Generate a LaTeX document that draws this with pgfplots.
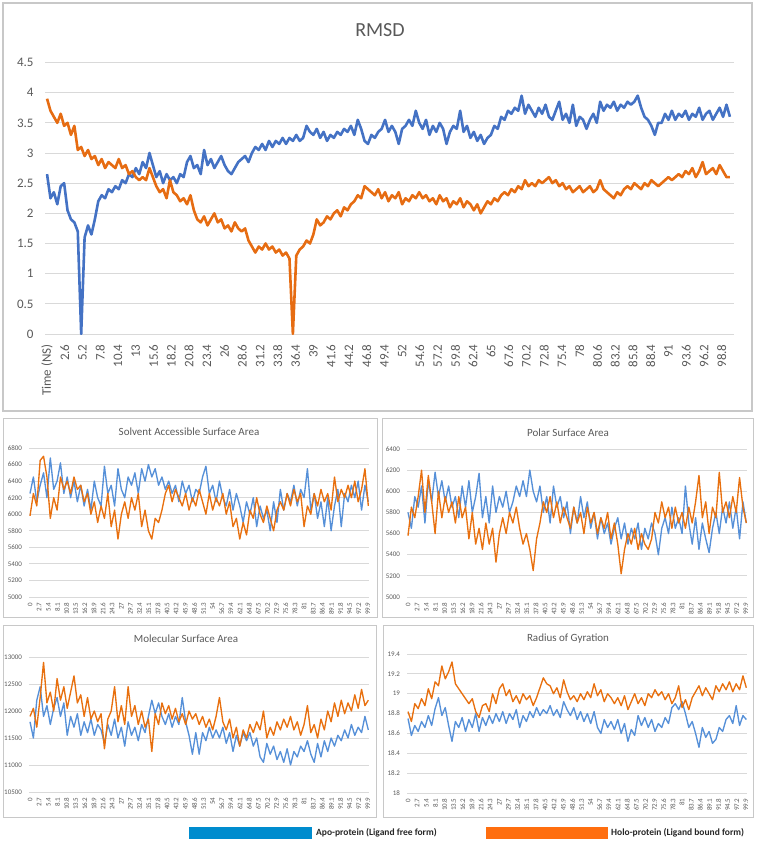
\documentclass[border=0pt]{standalone}
\usepackage{fontspec}
\setmainfont{Carlito}
\usepackage{pgfplots}
\usepackage{pgfplotstable}
\pgfplotsset{compat=1.18}

\definecolor{txt}{HTML}{595959}
\definecolor{gridc}{HTML}{D9D9D9}
\definecolor{framec}{HTML}{C8C8C8}
\definecolor{rblue}{HTML}{4472C4}
\definecolor{rorange}{HTML}{E66C12}
\definecolor{sblue}{HTML}{5690D8}
\definecolor{sorange}{HTML}{E8700F}
\definecolor{lblue}{HTML}{008CCE}
\definecolor{lorange}{HTML}{FF6E0F}

\pgfplotsset{
  excel/.style={
    scale only axis, enlargelimits=false,
    axis line style={draw=none}, tick style={draw=none}, major tick length=0pt,
    ymajorgrids, grid style={draw=gridc, line width=0.8pt},
    scaled ticks=false,
    /pgf/number format/assume math mode=true,
    /pgf/number format/1000 sep={},
    tick label style={text=txt},
    x tick label style={rotate=90, anchor=east},
  },
  small/.style={
    excel, width=340pt, xmin=-0.3, xmax=100.2,
    tick label style={font=\fontsize{7}{7}\selectfont},
    yticklabel shift=3.5pt, xticklabel shift=2pt,
    xtick={0,2.7,5.4,8.1,10.8,13.5,16.2,18.9,21.6,24.3,27,29.7,32.4,35.1,37.8,40.5,43.2,45.9,48.6,
      51.3,54,56.7,59.4,62.1,64.8,67.5,70.2,72.9,75.6,78.3,81,83.7,86.4,89.1,91.8,94.5,97.2,99.9},
  },
  sline/.style={line width=1.35pt, line join=round},
}

% RMSD, 0.5 ns steps
\pgfplotstableread[row sep=\\,header=false]{
2.65\\2.25\\2.35\\2.15\\2.45\\2.50\\2.05\\1.90\\1.85\\1.70\\
0.00\\1.60\\1.80\\1.65\\1.90\\2.20\\2.30\\2.25\\2.40\\2.35\\
2.45\\2.40\\2.55\\2.50\\2.65\\2.60\\2.75\\2.65\\2.85\\2.75\\
3.00\\2.80\\2.60\\2.70\\2.50\\2.65\\2.55\\2.60\\2.50\\2.65\\
2.60\\2.85\\2.95\\2.75\\2.80\\2.65\\3.05\\2.80\\2.90\\2.75\\
2.85\\2.95\\2.80\\2.70\\2.65\\2.75\\2.85\\2.90\\2.95\\2.85\\
3.00\\3.10\\3.05\\3.15\\3.05\\3.20\\3.10\\3.20\\3.15\\3.25\\
3.15\\3.25\\3.20\\3.30\\3.20\\3.25\\3.45\\3.35\\3.30\\3.40\\
3.25\\3.35\\3.20\\3.30\\3.25\\3.35\\3.30\\3.40\\3.35\\3.45\\
3.30\\3.55\\3.40\\3.20\\3.15\\3.30\\3.25\\3.35\\3.40\\3.55\\
3.35\\3.45\\3.35\\3.15\\3.40\\3.45\\3.55\\3.45\\3.70\\3.50\\
3.40\\3.55\\3.30\\3.45\\3.35\\3.50\\3.40\\3.15\\3.35\\3.45\\
3.40\\3.70\\3.35\\3.45\\3.25\\3.35\\3.20\\3.30\\3.15\\3.25\\
3.30\\3.45\\3.40\\3.60\\3.55\\3.70\\3.65\\3.75\\3.70\\3.95\\
3.65\\3.80\\3.70\\3.60\\3.75\\3.65\\3.80\\3.60\\3.55\\3.70\\
3.85\\3.55\\3.65\\3.50\\3.80\\3.45\\3.60\\3.55\\3.40\\3.55\\
3.65\\3.50\\3.85\\3.70\\3.80\\3.75\\3.85\\3.70\\3.80\\3.75\\
3.85\\3.80\\3.85\\3.95\\3.75\\3.60\\3.55\\3.45\\3.30\\3.50\\
3.50\\3.65\\3.55\\3.70\\3.55\\3.65\\3.60\\3.70\\3.55\\3.65\\
3.60\\3.75\\3.55\\3.65\\3.70\\3.55\\3.65\\3.75\\3.60\\3.80\\
3.60\\
}\rmsdapo
\pgfplotstableread[row sep=\\,header=false]{
3.90\\3.70\\3.60\\3.50\\3.65\\3.45\\3.50\\3.30\\3.45\\3.05\\
3.10\\2.95\\3.05\\2.90\\2.95\\2.80\\2.90\\2.75\\2.85\\2.80\\
2.75\\2.90\\2.75\\2.80\\2.65\\2.70\\2.60\\2.55\\2.60\\2.55\\
2.75\\2.60\\2.45\\2.35\\2.40\\2.25\\2.55\\2.35\\2.30\\2.20\\
2.25\\2.15\\2.30\\2.05\\1.90\\1.85\\1.95\\1.80\\1.90\\2.00\\
1.85\\1.90\\1.75\\1.80\\1.70\\1.85\\1.75\\1.70\\1.75\\1.55\\
1.45\\1.35\\1.45\\1.40\\1.50\\1.40\\1.45\\1.35\\1.40\\1.30\\
1.35\\1.25\\0.00\\1.30\\1.40\\1.45\\1.55\\1.50\\1.65\\1.90\\
1.80\\1.85\\1.95\\1.90\\2.00\\2.05\\1.95\\2.10\\2.05\\2.15\\
2.20\\2.30\\2.25\\2.45\\2.40\\2.35\\2.30\\2.40\\2.25\\2.35\\
2.20\\2.30\\2.25\\2.35\\2.15\\2.25\\2.20\\2.30\\2.25\\2.35\\
2.25\\2.30\\2.20\\2.25\\2.15\\2.30\\2.20\\2.25\\2.10\\2.20\\
2.15\\2.25\\2.10\\2.20\\2.15\\2.05\\2.15\\2.00\\2.10\\2.20\\
2.15\\2.25\\2.20\\2.30\\2.35\\2.30\\2.40\\2.35\\2.45\\2.40\\
2.55\\2.45\\2.50\\2.45\\2.55\\2.50\\2.55\\2.60\\2.50\\2.55\\
2.45\\2.50\\2.40\\2.45\\2.35\\2.40\\2.45\\2.35\\2.40\\2.45\\
2.35\\2.40\\2.55\\2.40\\2.35\\2.30\\2.25\\2.35\\2.30\\2.40\\
2.45\\2.40\\2.50\\2.45\\2.40\\2.50\\2.45\\2.55\\2.50\\2.45\\
2.50\\2.55\\2.60\\2.55\\2.60\\2.65\\2.60\\2.70\\2.65\\2.75\\
2.60\\2.70\\2.85\\2.65\\2.70\\2.75\\2.65\\2.80\\2.70\\2.60\\
2.60\\
}\rmsdholo

% Solvent accessible surface area, 1 ns steps
\pgfplotstableread[row sep=\\,header=false]{
6250\\6450\\6150\\6350\\6500\\6200\\6680\\6300\\6400\\6620\\6250\\
6450\\6200\\6400\\6150\\6350\\6100\\6300\\6050\\6400\\6200\\
6100\\6580\\6250\\6350\\6100\\6550\\6300\\6200\\6450\\6350\\
6500\\6250\\6550\\6400\\6600\\6450\\6550\\6350\\6450\\6300\\
6400\\6250\\6350\\6150\\6400\\6250\\6350\\6150\\6300\\6250\\
6450\\6580\\6250\\6350\\6150\\6400\\6200\\6100\\6300\\6050\\
6250\\6100\\5900\\6150\\6000\\6200\\5850\\6100\\5950\\6050\\
5800\\6150\\5900\\6300\\6050\\6250\\6150\\6350\\6100\\6300\\
6200\\6550\\6050\\6250\\5950\\6150\\5850\\6200\\5800\\6100\\
6300\\5850\\6250\\6150\\6350\\6200\\6400\\6050\\6350\\6150\\
}\sasaapo
\pgfplotstableread[row sep=\\,header=false]{
5980\\6250\\6100\\6650\\6700\\6450\\5950\\6200\\6050\\6450\\6300\\
6400\\6250\\6450\\6300\\6350\\6150\\6250\\6000\\6150\\5900\\
6100\\5950\\6250\\5850\\6050\\5700\\6000\\6150\\5950\\6200\\
6050\\6250\\5850\\6050\\5800\\5700\\5950\\5900\\6050\\6250\\
6350\\6150\\6300\\6200\\6100\\6250\\6050\\6200\\6100\\6300\\
6150\\6000\\6250\\6050\\6200\\6100\\6250\\6000\\6150\\5850\\
5950\\5700\\5900\\5750\\6050\\5950\\6200\\6000\\5900\\6100\\
5950\\5800\\6050\\6150\\6050\\6250\\6100\\6300\\6150\\6250\\
5850\\6100\\6000\\6250\\6100\\6300\\6150\\6250\\6050\\6450\\
6150\\6300\\6200\\6350\\6200\\6400\\6150\\6300\\6550\\6100\\
}\sasaholo

% Polar surface area
\pgfplotstableread[row sep=\\,header=false]{
5800\\5650\\5950\\5850\\6050\\5700\\6100\\5900\\6180\\5950\\6100\\
5900\\6050\\5850\\5950\\5750\\6050\\5850\\6100\\5800\\5950\\
6170\\5750\\5950\\5700\\6050\\5800\\5950\\5850\\6000\\5800\\
5900\\6050\\5950\\6100\\5950\\6200\\6000\\5900\\6050\\5800\\
5950\\5700\\6050\\5850\\5950\\5750\\5900\\5600\\5850\\5700\\
5950\\5750\\5900\\5650\\5800\\5550\\5750\\5600\\5700\\5500\\
5650\\5750\\5550\\5700\\5500\\5650\\5550\\5700\\5450\\5650\\
5550\\5700\\5600\\5400\\5650\\5750\\5600\\5850\\5650\\5750\\
5600\\6050\\5700\\5500\\5750\\5450\\5700\\5550\\5420\\5650\\
5800\\5600\\5850\\5700\\5900\\5650\\5850\\5550\\5900\\5700\\
}\psaapo
\pgfplotstableread[row sep=\\,header=false]{
5580\\5850\\5750\\5950\\6200\\5800\\6150\\5900\\5600\\6000\\5750\\
5950\\5800\\5900\\5700\\5950\\5750\\5850\\5550\\5800\\5500\\
5650\\5450\\5700\\5500\\5650\\5330\\5600\\5750\\5600\\5800\\
5700\\5850\\5650\\5500\\5600\\5450\\5250\\5550\\5700\\5900\\
5800\\5950\\5750\\5900\\5700\\5850\\5750\\5650\\5850\\5700\\
5800\\5600\\5850\\5700\\5800\\5600\\5750\\5650\\5800\\5550\\
5700\\5500\\5220\\5450\\5600\\5500\\5650\\5450\\5600\\5500\\
5450\\5550\\5800\\5700\\5900\\5750\\5850\\5650\\5850\\5700\\
5800\\5650\\5850\\5700\\5900\\6150\\5750\\5900\\5600\\5850\\
5750\\6180\\5800\\5900\\5750\\5950\\5800\\6130\\5850\\5700\\
}\psaholo

% Molecular surface area
\pgfplotstableread[row sep=\\,header=false]{
11800\\11500\\12200\\12450\\11900\\12100\\11750\\12050\\12250\\11900\\12150\\
11550\\11900\\11700\\11950\\11550\\11800\\11600\\11850\\11550\\11750\\
11650\\11400\\11750\\11550\\11850\\11500\\11700\\11350\\11800\\11550\\
11700\\11450\\11750\\11600\\11900\\12200\\11950\\12150\\11900\\11750\\
11950\\11700\\11900\\11750\\12250\\11800\\11550\\11200\\11600\\11200\\
11600\\11450\\11700\\11500\\11650\\11500\\11700\\11400\\11600\\11250\\
11550\\11350\\11600\\11450\\11600\\11350\\11500\\11150\\11050\\11400\\
11200\\11350\\11100\\11250\\11050\\11300\\11000\\11250\\11150\\11350\\
11250\\11450\\11200\\11050\\11400\\11150\\11450\\11250\\11500\\11350\\
11550\\11450\\11650\\11500\\11750\\11550\\11700\\11600\\11900\\11650\\
}\msaapo
\pgfplotstableread[row sep=\\,header=false]{
11900\\12050\\11700\\12250\\12900\\12150\\12350\\12000\\12600\\12200\\12450\\
12050\\12350\\12650\\12150\\12300\\11900\\12250\\11850\\12000\\11800\\
11950\\11300\\11850\\12000\\12450\\11800\\12100\\11750\\12450\\11900\\
12100\\11750\\12000\\11700\\11850\\11250\\11950\\11750\\12150\\11950\\
12100\\11850\\12050\\11800\\11950\\11750\\12000\\11850\\11950\\11750\\
11900\\11700\\11850\\11650\\11900\\12250\\11800\\11650\\11850\\11500\\
11700\\11350\\11650\\11500\\11750\\11600\\11800\\11650\\12000\\11500\\
11700\\11550\\11800\\11650\\11850\\11700\\11900\\11650\\11800\\11550\\
11750\\12100\\11600\\11750\\11500\\11850\\11650\\12000\\11800\\12150\\
11900\\12200\\11950\\12150\\12000\\12300\\12050\\12400\\12100\\12200\\
}\msaholo

% Radius of gyration
\pgfplotstableread[row sep=\\,header=false]{
18.75\\18.58\\18.68\\18.62\\18.72\\18.66\\18.78\\18.68\\18.85\\18.96\\18.78\\
18.86\\18.68\\18.52\\18.72\\18.66\\18.76\\18.62\\18.74\\18.66\\18.80\\
18.62\\18.76\\18.68\\18.78\\18.70\\18.80\\18.72\\18.82\\18.70\\18.80\\
18.74\\18.84\\18.66\\18.78\\18.72\\18.82\\18.76\\18.86\\18.78\\18.84\\
18.80\\18.88\\18.78\\18.84\\18.76\\18.92\\18.84\\18.78\\18.86\\18.74\\
18.82\\18.72\\18.80\\18.70\\18.82\\18.66\\18.60\\18.74\\18.66\\18.72\\
18.64\\18.74\\18.60\\18.70\\18.52\\18.64\\18.58\\18.78\\18.68\\18.76\\
18.66\\18.74\\18.62\\18.70\\18.66\\18.76\\18.70\\18.86\\18.90\\18.84\\
18.92\\18.80\\18.66\\18.72\\18.60\\18.46\\18.66\\18.56\\18.62\\18.50\\
18.54\\18.66\\18.62\\18.74\\18.78\\18.70\\18.88\\18.68\\18.78\\18.74\\
}\rgapo
\pgfplotstableread[row sep=\\,header=false]{
18.82\\18.72\\18.90\\18.85\\18.95\\18.88\\19.05\\18.95\\19.12\\19.08\\19.28\\
19.15\\19.22\\19.32\\19.10\\19.05\\19.00\\18.95\\18.90\\18.95\\18.82\\
18.76\\18.88\\18.90\\18.82\\19.00\\18.90\\19.05\\19.10\\18.98\\19.04\\
18.92\\18.98\\18.90\\19.00\\18.94\\18.98\\18.88\\18.96\\19.06\\19.16\\
19.10\\19.08\\19.00\\19.06\\18.96\\19.14\\19.02\\18.94\\18.98\\18.92\\
19.00\\18.94\\19.02\\18.96\\19.10\\18.98\\19.04\\18.92\\19.00\\18.96\\
18.90\\18.96\\18.88\\18.98\\18.84\\18.92\\19.00\\18.90\\18.96\\18.88\\
19.00\\18.96\\19.04\\18.98\\19.02\\18.94\\19.00\\18.90\\18.96\\19.08\\
18.86\\18.94\\18.84\\18.96\\19.02\\19.08\\18.98\\19.06\\19.00\\18.94\\
19.08\\19.02\\19.10\\19.04\\19.12\\19.02\\19.10\\19.04\\19.18\\19.06\\
}\rgholo

\begin{document}
\begin{tikzpicture}
\useasboundingbox (0pt,0pt) rectangle (760pt,-845pt);

% panel frames
\draw[framec, line width=1.5pt] (3pt,-3pt) rectangle (752pt,-411pt);
\draw[framec, line width=0.8pt] (3pt,-418pt) rectangle (377pt,-617pt);
\draw[framec, line width=0.8pt] (382pt,-418pt) rectangle (753pt,-617pt);
\draw[framec, line width=0.8pt] (3pt,-625pt) rectangle (376pt,-817pt);
\draw[framec, line width=0.8pt] (383pt,-625pt) rectangle (753pt,-817pt);

% RMSD
\begin{axis}[excel, at={(45pt,-334pt)}, anchor=south west,
  width=689pt, height=271.5pt,
  xmin=-0.3, xmax=100.6, ymin=0, ymax=4.5,
  ytick={0,0.5,...,4.5},
  tick label style={font=\fontsize{13}{13}\selectfont},
  yticklabel shift=8pt, xticklabel shift=7pt,
  xtick={0,2.6,5.2,7.8,10.4,13,15.6,18.2,20.8,23.4,26,28.6,31.2,33.8,36.4,39,41.6,44.2,46.8,49.4,
    52,54.6,57.2,59.8,62.4,65,67.6,70.2,72.8,75.4,78,80.6,83.2,85.8,88.4,91,93.6,96.2,98.8},
  xticklabels={Time (NS),2.6,5.2,7.8,10.4,13,15.6,18.2,20.8,23.4,26,28.6,31.2,33.8,36.4,39,41.6,44.2,46.8,49.4,
    52,54.6,57.2,59.8,62.4,65,67.6,70.2,72.8,75.4,78,80.6,83.2,85.8,88.4,91,93.6,96.2,98.8},
]
\addplot[rblue, line width=2.6pt, line join=round] table[x expr=\coordindex*0.5, y index=0] {\rmsdapo};
\addplot[rorange, line width=2.6pt, line join=round] table[x expr=\coordindex*0.5, y index=0] {\rmsdholo};
\end{axis}
\node[txt, font=\fontsize{20}{20}\selectfont] at (380pt,-30pt) {RMSD};

% Solvent Accessible Surface Area
\begin{axis}[small, at={(29pt,-597pt)}, anchor=south west, height=149pt,
  ymin=5000, ymax=6800, ytick={5000,5200,...,6800}]
\addplot[sblue, sline] table[x expr=\coordindex, y index=0] {\sasaapo};
\addplot[sorange, sline] table[x expr=\coordindex, y index=0] {\sasaholo};
\end{axis}
\node[txt, font=\fontsize{11}{11}\selectfont] at (189pt,-432pt) {Solvent Accessible Surface Area};

% Polar Surface Area
\begin{axis}[small, at={(407pt,-597pt)}, anchor=south west, height=148pt,
  ymin=5000, ymax=6400, ytick={5000,5200,...,6400}]
\addplot[sblue, sline] table[x expr=\coordindex, y index=0] {\psaapo};
\addplot[sorange, sline] table[x expr=\coordindex, y index=0] {\psaholo};
\end{axis}
\node[txt, font=\fontsize{11}{11}\selectfont] at (568pt,-433pt) {Polar Surface Area};

% Molecular Surface Area
\begin{axis}[small, at={(29pt,-792pt)}, anchor=south west, height=135pt,
  ymin=10500, ymax=13000, ytick={10500,11000,...,13000}]
\addplot[sblue, sline] table[x expr=\coordindex, y index=0] {\msaapo};
\addplot[sorange, sline] table[x expr=\coordindex, y index=0] {\msaholo};
\end{axis}
\node[txt, font=\fontsize{11}{11}\selectfont] at (186pt,-639pt) {Molecular Surface Area};

% Radius of Gyration
\begin{axis}[small, at={(407pt,-793pt)}, anchor=south west, height=139pt,
  ymin=18, ymax=19.4, ytick={18,18.2,18.4,18.6,18.8,19,19.2,19.4}]
\addplot[sblue, sline] table[x expr=\coordindex, y index=0] {\rgapo};
\addplot[sorange, sline] table[x expr=\coordindex, y index=0] {\rgholo};
\end{axis}
\node[txt, font=\fontsize{11}{11}\selectfont] at (568pt,-639pt) {Radius of Gyration};

% legend
\fill[lblue] (189pt,-827pt) rectangle (312pt,-839pt);
\node[anchor=west, inner sep=0pt, font=\bfseries\fontsize{9.5}{9.5}\selectfont, text=black!85]
  at (316pt,-833pt) {Apo-protein (Ligand free form)};
\fill[lorange] (486pt,-827pt) rectangle (608pt,-839pt);
\node[anchor=west, inner sep=0pt, font=\bfseries\fontsize{9.5}{9.5}\selectfont, text=black!85]
  at (611pt,-833pt) {Holo-protein (Ligand bound form)};
\end{tikzpicture}
\end{document}
